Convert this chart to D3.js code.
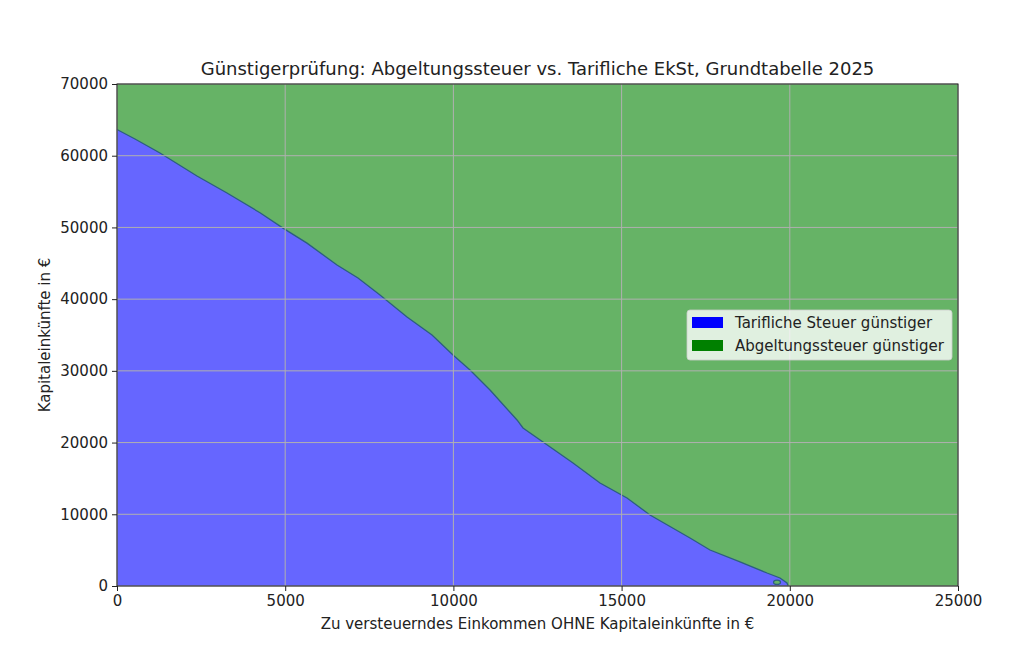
<!DOCTYPE html>
<html>
<head>
<meta charset="utf-8">
<script src="https://cdn.jsdelivr.net/npm/d3@7"></script>
<style>
  html, body { margin: 0; padding: 0; background: #fff; }
  svg { display: block; font-family: "DejaVu Sans", sans-serif; }
</style>
</head>
<body>
<svg id="chart" width="1024" height="670"></svg>
<script>
// Boundary where both taxes are equal: income without capital income (x) vs capital income (y)
const boundaryIncome = [0, 535, 1278, 2378, 3270, 4251, 4935, 5648, 6540, 7164, 7818, 8621, 9364, 9988, 10494, 11088, 11891, 12069, 12664, 13556, 14358, 15161, 15845, 17034, 17628, 18520, 19323, 19709, 19917, 19950];
const boundaryCapital = [63650, 62330, 60380, 57170, 54800, 52050, 49900, 47810, 44760, 42950, 40580, 37510, 35000, 32210, 30120, 27330, 23150, 22030, 20080, 17150, 14360, 12270, 9900, 6690, 5020, 3350, 1810, 1120, 420, 0];
// small closed contour island near the end of the boundary
const islandIncome = [19620];
const islandCapital = [520];
const xTicks = [0, 5000, 10000, 15000, 20000, 25000];
const yTicks = [0, 10000, 20000, 30000, 40000, 50000, 60000, 70000];
const legendLabels = ["Tarifliche Steuer günstiger", "Abgeltungssteuer günstiger"];
const legendColors = ["#0000ff", "#008000"];
const titleText = "Günstigerprüfung: Abgeltungssteuer vs. Tarifliche EkSt, Grundtabelle 2025";
const xLabel = "Zu versteuerndes Einkommen OHNE Kapitaleinkünfte in €";
const yLabel = "Kapitaleinkünfte in €";

const W = 1024, H = 670;
const m = { left: 117, right: 66, top: 84, bottom: 84 };
const pw = W - m.left - m.right, ph = H - m.top - m.bottom;

const svg = d3.select("#chart");
const g = svg.append("g").attr("transform", `translate(${m.left},${m.top})`);

const x = d3.scaleLinear().domain([0, 25000]).range([0, pw]);
const y = d3.scaleLinear().domain([0, 70000]).range([ph, 0]);

// green background region (Abgeltungssteuer günstiger)
g.append("rect").attr("x", 0).attr("y", 0).attr("width", pw).attr("height", ph)
  .attr("fill", "rgb(102,179,102)");

const pts = boundaryIncome.map((v, i) => [v, boundaryCapital[i]]);
const area = d3.area().x(d => x(d[0])).y0(y(0)).y1(d => y(d[1]));
g.append("path").datum(pts).attr("d", area).attr("fill", "rgb(102,102,255)");
const line = d3.line().x(d => x(d[0])).y(d => y(d[1]));
g.append("path").datum(pts).attr("d", line).attr("fill", "none")
  .attr("stroke", "#2d5f80").attr("stroke-width", 1.3);
g.append("g").selectAll("ellipse").data(islandIncome).join("ellipse")
  .attr("cx", d => x(d)).attr("cy", (d, i) => y(islandCapital[i]))
  .attr("rx", 3.5).attr("ry", 2.2).attr("fill", "rgb(102,179,102)")
  .attr("stroke", "#2d5f80").attr("stroke-width", 1.2);

// grid
g.append("g").selectAll("line").data(xTicks).join("line")
  .attr("x1", d => x(d)).attr("x2", d => x(d)).attr("y1", 0).attr("y2", ph)
  .attr("stroke", "#b0b0b0").attr("stroke-width", 1);
g.append("g").selectAll("line").data(yTicks).join("line")
  .attr("y1", d => y(d)).attr("y2", d => y(d)).attr("x1", 0).attr("x2", pw)
  .attr("stroke", "#b0b0b0").attr("stroke-width", 1);

// axes
const xAxis = d3.axisBottom(x).tickValues(xTicks).tickFormat(d3.format("d")).tickSize(5).tickPadding(4);
const yAxis = d3.axisLeft(y).tickValues(yTicks).tickFormat(d3.format("d")).tickSize(5).tickPadding(4);
const gx = g.append("g").attr("transform", `translate(0,${ph})`).call(xAxis);
const gy = g.append("g").call(yAxis);
[gx, gy].forEach(a => {
  a.select(".domain").remove();
  a.selectAll("text").attr("font-size", 15).attr("fill", "#222").attr("font-family", "DejaVu Sans, sans-serif");
  a.selectAll("line").attr("stroke", "#222");
});
g.append("rect").attr("x", 0).attr("y", 0).attr("width", pw).attr("height", ph)
  .attr("fill", "none").attr("stroke", "#222").attr("stroke-width", 1);

// title & labels
svg.append("text").attr("x", m.left + pw / 2).attr("y", 75).attr("text-anchor", "middle")
  .attr("font-size", 18).attr("fill", "#222").text(titleText);
svg.append("text").attr("x", m.left + pw / 2).attr("y", 629).attr("text-anchor", "middle")
  .attr("font-size", 15).attr("fill", "#222").text(xLabel);
svg.append("text").attr("transform", `translate(50,${m.top + ph / 2}) rotate(-90)`)
  .attr("text-anchor", "middle").attr("font-size", 15).attr("fill", "#222").text(yLabel);

// legend
const lg = svg.append("g").attr("transform", "translate(687,310)");
lg.append("rect").attr("width", 265).attr("height", 50).attr("rx", 3)
  .attr("fill", "rgba(255,255,255,0.8)").attr("stroke", "#cccccc").attr("stroke-opacity", 0.8);
legendLabels.forEach((lab, i) => {
  lg.append("rect").attr("x", 5).attr("y", 7 + i * 23).attr("width", 31).attr("height", 11)
    .attr("fill", legendColors[i]);
  lg.append("text").attr("x", 48).attr("y", 18 + i * 23).attr("font-size", 15).attr("fill", "#222").text(lab);
});
</script>
</body>
</html>
